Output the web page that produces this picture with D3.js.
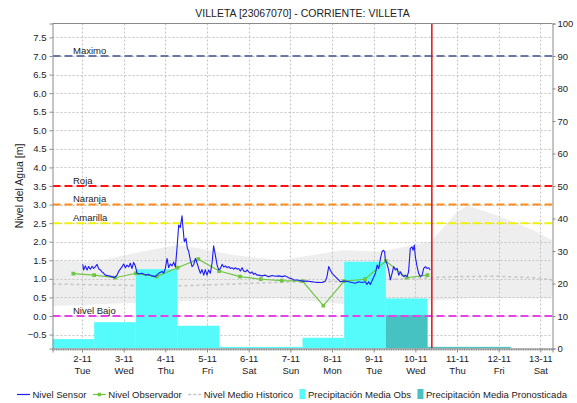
<!DOCTYPE html>
<html>
<head>
<meta charset="utf-8">
<script src="https://cdn.jsdelivr.net/npm/d3@7"></script>
<style>
  html, body { margin: 0; padding: 0; background: #fff; }
  svg { display: block; font-family: "Liberation Sans", Arial, sans-serif; }
</style>
</head>
<body>
<svg id="chart" width="577" height="403"></svg>
<script>
// ---- Data (times in hours from 2 Nov 2021 00:00 UTC) ----
const sensorHours = [0.4,0.9,1.9,2.9,3.8,4.8,5.8,6.7,7.7,8.7,9.6,10.6,11.5,12.5,13.4,15.3,17.3,18.8,20.2,21.1,
  23.1,24.0,25.0,25.9,26.9,27.8,28.8,29.7,30.7,31.7,32.6,34.6,36.5,38.4,40.3,42.2,44.2,46.1,47.0,48.0,
  49.0,49.9,50.9,51.9,52.8,53.8,54.7,55.7,56.6,57.6,58.2,58.9,59.9,60.7,61.4,62.4,63.4,64.3,65.3,66.3,
  67.2,68.2,69.1,70.1,71.0,72.0,72.9,73.9,74.9,75.8,76.8,77.8,78.7,79.7,80.7,81.6,82.6,83.5,84.5,85.4,
  86.4,87.3,88.3,89.3,90.2,91.2,92.2,93.1,94.1,95.1,96.0,97.0,97.9,98.9,99.8,100.8,101.7,103.7,105.6,107.5,
  109.5,111.4,113.3,115.2,117.1,119.0,121.0,122.0,124.1,126.7,129.6,132.5,135.4,138.3,140.2,141.1,142.1,143.0,144.0,145.9,
  147.8,148.8,150.7,151.7,153.6,155.5,157.4,159.4,161.3,163.2,164.2,165.1,166.1,167.0,169.0,170.0,170.9,171.9,172.8,173.7,
  174.3,174.7,175.7,176.6,177.6,178.6,179.5,180.5,181.5,182.4,183.4,184.3,185.3,186.2,187.2,188.1,189.1,190.1,190.7,191.4,
  192.0,193.0,193.9,194.9,195.9,196.8,197.8,198.7,199.7,200.6];
const sensorLevel = [1.39,1.24,1.35,1.24,1.33,1.26,1.34,1.28,1.33,1.39,1.27,1.24,1.19,1.15,1.10,1.08,1.06,1.03,1.10,1.20,
  1.33,1.40,1.30,1.37,1.32,1.42,1.28,1.44,1.35,1.15,1.13,1.15,1.10,1.12,1.08,1.06,1.15,1.20,1.15,1.28,
  1.55,1.30,1.40,1.35,1.45,1.32,1.82,2.45,2.38,2.70,2.36,2.00,2.09,1.82,1.75,1.51,1.33,1.38,1.55,1.42,
  1.28,1.15,1.25,1.10,1.25,1.10,1.24,1.15,1.42,1.89,1.64,1.37,1.24,1.28,1.39,1.32,1.35,1.30,1.33,1.28,
  1.30,1.26,1.30,1.26,1.28,1.21,1.30,1.21,1.19,1.24,1.19,1.15,1.19,1.12,1.15,1.10,1.10,1.08,1.10,1.06,
  1.09,1.07,1.08,1.06,1.08,1.03,1.00,0.97,0.97,0.94,0.94,0.92,0.90,0.90,0.94,1.06,1.33,1.24,1.15,1.06,
  0.97,0.92,0.94,0.94,0.92,0.90,0.88,0.92,0.90,0.92,0.85,0.92,0.85,0.94,1.15,1.37,1.28,1.55,1.73,1.77,
  1.73,1.51,1.40,1.24,0.97,1.15,1.33,1.24,1.28,1.10,1.19,1.10,1.06,1.10,1.06,1.19,1.82,1.86,1.77,1.91,
  1.59,1.33,1.15,1.06,1.10,1.28,1.33,1.28,1.30,1.24];

const observerHours = [-5,7,19,31,43,55,67,79,91,103,115,127,139,151,163,175,187,199];
const observerLevel = [1.14,1.10,1.03,1.15,1.06,1.30,1.53,1.21,1.06,0.99,0.95,0.94,0.28,0.94,0.99,1.48,1.03,1.10];

const historicHours = [-17,20,50,80,114,150,195,216,240,260,271];
const historicMean  = [0.86,0.83,0.80,0.85,0.91,0.93,1.02,1.06,1.07,1.03,0.97];

const bandHours = [-17,3,16,34,55,68,87,114,133,150,172,195,201,216,222,239,260,271];
const bandHigh  = [1.50,1.46,1.55,1.73,1.91,1.82,1.64,1.50,1.64,1.77,1.73,1.95,2.00,2.80,2.97,2.71,2.31,2.04];
const bandLow   = [0.27,0.30,0.33,0.36,0.40,0.42,0.45,0.48,0.40,0.32,0.35,0.40,0.42,0.46,0.48,0.48,0.47,0.47];

// daily rainfall, each period runs 24 h from its start hour
const rainObsStart = [-41,-17,7,31,55,79,103,127,151,175];
const rainObs      = [6.7,2.9,8.1,24.4,7.0,0.5,0.5,3.3,26.7,15.4];
const rainFcstStart = [175,199,223];
const rainFcst      = [10.3,0.5,0.5];

const thresholdNames  = ["Maximo","Roja","Naranja","Amarilla","Nivel Bajo"];
const thresholdLevels = [7.0,3.5,3.0,2.5,0.0];
const thresholdColors = ["#6a78a8","#ff1010","#ff8c1a","#f2f200","#e344e3"];

const levelTicks  = [-0.5,0,0.5,1,1.5,2,2.5,3,3.5,4,4.5,5,5.5,6,6.5,7,7.5];
const rainTicks   = [0,10,20,30,40,50,60,70,80,90,100];
const dayTickHours = [0,24,48,72,96,120,144,168,192,216,240,264];
const dateLabels  = ["2-11","3-11","4-11","5-11","6-11","7-11","8-11","9-11","10-11","11-11","12-11","13-11"];
const dayLabels   = ["Tue","Wed","Thu","Fri","Sat","Sun","Mon","Tue","Wed","Thu","Fri","Sat"];
const nowHour = 201.5;

// ---- Layout ----
const L = 52.5, R = 552.5, T = 23.5, B = 348.5;
const base = Date.UTC(2021, 10, 2, 0);
const at = h => new Date(base + h * 3600e3);

const x  = d3.scaleUtc().domain([at(-17), at(271)]).range([L, R]);
const yL = d3.scaleLinear().domain([-0.875, 7.875]).range([B, T]);
const yR = d3.scaleLinear().domain([0, 100]).range([B, T]);

const C = {
  sensor: "#1c1cf5", observer: "#6ec642", historic: "#c4c4c4",
  band: "#eeeeee", rainObs: "#55fbfb", rainFcst: "#47c2c2",
  grid: "#c4c4c4", axis: "#8a8a8a", text: "#222"
};

const svg = d3.select("#chart");
svg.append("defs").append("clipPath").attr("id", "plot")
  .append("rect").attr("x", L).attr("y", T).attr("width", R - L).attr("height", B - T);

const plot = svg.append("g").attr("clip-path", "url(#plot)");

// historical range band
plot.append("path")
  .datum(bandHours.map((h, i) => ({ h, lo: bandLow[i], hi: bandHigh[i] })))
  .attr("fill", C.band)
  .attr("d", d3.area().x(d => x(at(d.h))).y0(d => yL(d.lo)).y1(d => yL(d.hi)));

// grid
plot.append("g").selectAll("line").data(levelTicks).join("line")
  .attr("x1", L).attr("x2", R)
  .attr("y1", d => Math.round(yL(d)) + 0.5).attr("y2", d => Math.round(yL(d)) + 0.5)
  .attr("stroke", C.grid).attr("stroke-dasharray", "2,2");
plot.append("g").selectAll("line").data(dayTickHours).join("line")
  .attr("x1", d => Math.round(x(at(d))) + 0.5).attr("x2", d => Math.round(x(at(d))) + 0.5)
  .attr("y1", T).attr("y2", B)
  .attr("stroke", C.grid).attr("stroke-dasharray", "2,2");

// historical mean
plot.append("path")
  .datum(historicHours.map((h, i) => [h, historicMean[i]]))
  .attr("fill", "none").attr("stroke", C.historic).attr("stroke-width", 1.5)
  .attr("stroke-dasharray", "3,3")
  .attr("d", d3.line().x(d => x(at(d[0]))).y(d => yL(d[1])));

// rainfall bars
function bars(starts, vals, color) {
  plot.append("g").selectAll("rect").data(starts.map((s, i) => [s, vals[i]])).join("rect")
    .attr("x", d => x(at(d[0])))
    .attr("width", d => x(at(d[0] + 24)) - x(at(d[0])))
    .attr("y", d => yR(d[1]))
    .attr("height", d => B - yR(d[1]))
    .attr("fill", color);
}
bars(rainObsStart, rainObs, C.rainObs);
bars(rainFcstStart, rainFcst, C.rainFcst);

// threshold levels
const thr = plot.append("g");
thresholdLevels.forEach((lv, i) => {
  thr.append("line")
    .attr("x1", L).attr("x2", R).attr("y1", yL(lv)).attr("y2", yL(lv))
    .attr("stroke", thresholdColors[i]).attr("stroke-width", 2)
    .attr("stroke-dasharray", "8,4");
  thr.append("text")
    .attr("x", 73).attr("y", yL(lv) - 2.5)
    .attr("font-size", 9.5).attr("fill", C.text)
    .text(thresholdNames[i]);
});

// observer readings
plot.append("path")
  .datum(observerHours.map((h, i) => [h, observerLevel[i]]))
  .attr("fill", "none").attr("stroke", C.observer).attr("stroke-width", 1.2)
  .attr("d", d3.line().x(d => x(at(d[0]))).y(d => yL(d[1])));
plot.append("g").selectAll("path").data(observerHours.map((h, i) => [h, observerLevel[i]])).join("path")
  .attr("transform", d => `translate(${x(at(d[0]))},${yL(d[1])})`)
  .attr("d", d3.symbol(d3.symbolSquare, 14))
  .attr("fill", C.observer);

// sensor readings
plot.append("path")
  .datum(sensorHours.map((h, i) => [h, sensorLevel[i]]))
  .attr("fill", "none").attr("stroke", C.sensor).attr("stroke-width", 1.1)
  .attr("stroke-linejoin", "round")
  .attr("d", d3.line().x(d => x(at(d[0]))).y(d => yL(d[1])));

// current time marker
plot.append("line")
  .attr("x1", x(at(nowHour))).attr("x2", x(at(nowHour)))
  .attr("y1", T).attr("y2", B)
  .attr("stroke", "#e01010").attr("stroke-width", 1.5);

// plot frame
svg.append("line").attr("x1", L).attr("x2", R).attr("y1", T).attr("y2", T)
  .attr("stroke", C.axis);

// left axis
const axL = svg.append("g").attr("transform", `translate(${L},0)`)
  .call(d3.axisLeft(yL).tickValues(levelTicks).tickSize(3).tickPadding(3)
    .tickFormat(d3.format(".1f")));
// right axis
const axR = svg.append("g").attr("transform", `translate(${R},0)`)
  .call(d3.axisRight(yR).tickValues(rainTicks).tickSize(3).tickPadding(2));
// bottom axis: hourly minor ticks, daily labels
svg.append("g").attr("transform", `translate(0,${B})`)
  .call(d3.axisBottom(x).ticks(d3.utcHour.every(1)).tickSize(2).tickFormat(""))
  .call(g => g.select(".domain").remove());
const axB = svg.append("g").attr("transform", `translate(0,${B})`)
  .call(d3.axisBottom(x).tickValues(dayTickHours.map(at)).tickSize(4).tickPadding(4)
    .tickFormat((d, i) => dateLabels[i]));
axB.selectAll(".tick text").each(function (d, i) {
  const t = d3.select(this);
  t.text(null).attr("y", 0).attr("dy", null);
  t.append("tspan").attr("x", 0).attr("y", 13.5).text(dateLabels[i]);
  t.append("tspan").attr("x", 0).attr("y", 25).text(dayLabels[i]);
});

[axL, axR, axB].forEach(g => {
  g.attr("font-family", null).attr("font-size", null);
  g.selectAll("text").attr("font-size", 9.5).attr("fill", C.text);
  g.selectAll("line").attr("stroke", C.axis);
  g.select(".domain").attr("stroke", C.axis);
});
svg.selectAll(".tick line").attr("stroke", C.axis);

// title & axis label
svg.append("text").attr("x", (L + R) / 2).attr("y", 16.5)
  .attr("text-anchor", "middle").attr("font-size", 10.5).attr("fill", C.text)
  .text("VILLETA [23067070] - CORRIENTE: VILLETA");
svg.append("text")
  .attr("transform", `translate(23,${(T + B) / 2}) rotate(-90)`)
  .attr("text-anchor", "middle").attr("font-size", 10.5).attr("fill", C.text)
  .text("Nivel del Agua [m]");

// legend
const legendItems = [
  { label: "Nivel Sensor", kind: "line", color: C.sensor },
  { label: "Nivel Observador", kind: "marker", color: C.observer },
  { label: "Nivel Medio Historico", kind: "dash", color: C.historic },
  { label: "Precipitación Media Obs", kind: "rect", color: C.rainObs },
  { label: "Precipitación Media Pronosticada", kind: "rect", color: C.rainFcst }
];
const legend = svg.append("g");
const ly = 394;
let lx = 17;
legendItems.forEach(it => {
  let w;
  if (it.kind === "rect") {
    legend.append("rect").attr("x", lx).attr("y", ly - 5).attr("width", 6).attr("height", 10).attr("fill", it.color);
    w = 6;
  } else {
    w = 13;
    legend.append("line").attr("x1", lx).attr("x2", lx + w).attr("y1", ly + 0.5).attr("y2", ly + 0.5)
      .attr("stroke", it.color).attr("stroke-width", it.kind === "dash" ? 1.5 : 1.2)
      .attr("stroke-dasharray", it.kind === "dash" ? "3,2" : null);
    if (it.kind === "marker") {
      legend.append("path").attr("transform", `translate(${lx + w / 2},${ly + 0.5})`)
        .attr("d", d3.symbol(d3.symbolSquare, 12)).attr("fill", it.color);
    }
  }
  const t = legend.append("text").attr("x", lx + w + 2.5).attr("y", ly + 3.5)
    .attr("font-size", 9.5).attr("fill", C.text).text(it.label);
  lx = lx + w + 2.5 + t.node().getComputedTextLength() + 6.5;
});
</script>
</body>
</html>
